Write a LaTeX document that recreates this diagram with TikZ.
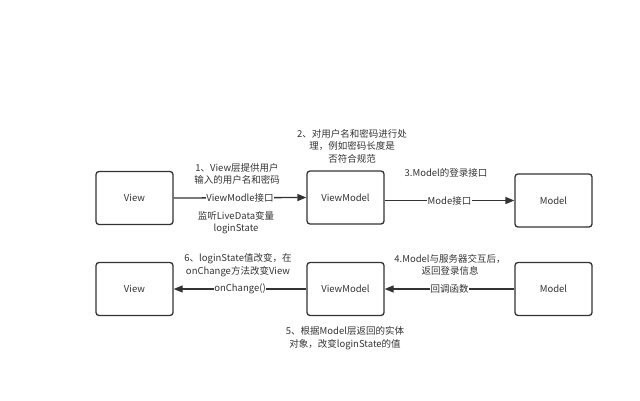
\documentclass[tikz,border=0pt]{standalone}
\usepackage{fontspec}
\setmainfont{Noto Sans CJK SC}
\usetikzlibrary{arrows.meta}
\definecolor{ink}{HTML}{333333}
\begin{document}
\begin{tikzpicture}[x=1pt,y=-1pt,
  box/.style={draw=ink,line width=1.3pt,rounded corners=3pt,minimum width=77pt,minimum height=53pt,inner sep=0pt,text=ink,font=\fontsize{9.5}{12}\selectfont},
  lbl/.style={text=ink,align=center,inner sep=0pt,font=\fontsize{9.5}{12.5}\selectfont},
  onl/.style={fill=white,text=ink,inner sep=0.5pt,font=\fontsize{9.5}{12}\selectfont},
  conn/.style={draw=ink,line width=1.3pt,-{Triangle[length=9pt,width=7pt]}}]
\useasboundingbox (0,0) rectangle (640,400);
\node[box] (v1) at (134.5,198) {View};
\node[box] (vm1) at (345.5,197.5) {ViewModel};
\node[box] (m1) at (553.5,200.5) {Model};
\node[box] (v2) at (134.5,289) {View};
\node[box] (vm2) at (345.5,289) {ViewModel};
\node[box] (m2) at (553.5,289) {Model};
\draw[conn] (v1.east) -- node[onl] {ViewModle接口} (vm1.west);
\draw[conn] (vm1.east |- m1.west) -- node[onl] {Mode接口} (m1.west);
\draw[conn] (vm2.west) -- node[onl] {onChange()} (v2.east);
\draw[conn] (m2.west) -- node[onl] {回调函数} (vm2.east);
\node[lbl] (t1) at (237,174) {1、View层提供用户\\输入的用户名和密码};
\node[lbl] (t1b) at (236,222.5) {监听LiveData变量\\loginState};
\node[lbl] (t2) at (352,146) {2、对用户名和密码进行处\\理，例如密码长度是\\否符合规范};
\node[lbl] (t3) at (446,173) {3.Model的登录接口};
\node[lbl] (t6) at (238,265) {6、loginState值改变，在\\onChange方法改变View};
\node[lbl] (t4) at (450,265) {4.Model与服务器交互后，\\返回登录信息};
\node[lbl] (t5) at (345,338) {5、根据Model层返回的实体\\对象，改变loginState的值};
\end{tikzpicture}
\end{document}
